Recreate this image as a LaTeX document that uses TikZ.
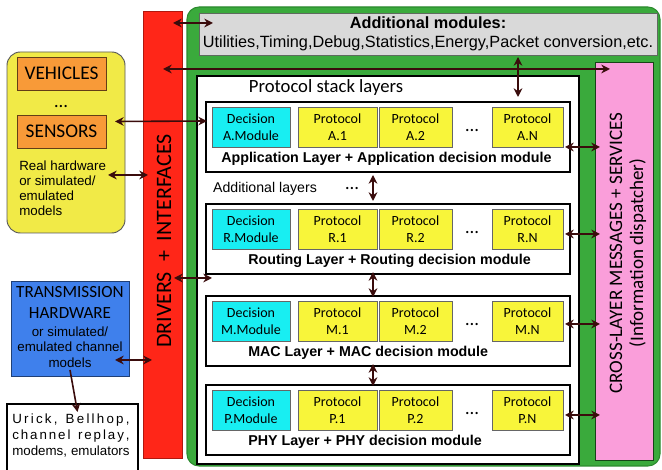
\documentclass[tikz,border=0pt]{standalone}
\usepackage{fontspec}
\setmainfont{Carlito}
\newfontfamily\arial{Liberation Sans}
\usetikzlibrary{fit,arrows.meta}
\definecolor{redbar}{HTML}{FF2618}
\definecolor{redbardk}{HTML}{B0180E}
\definecolor{grn}{HTML}{3AAA3C}
\definecolor{grndk}{HTML}{2C8A2E}
\definecolor{graybg}{HTML}{D9D9D9}
\definecolor{graydk}{HTML}{5E6A5E}
\definecolor{pinkbg}{HTML}{FA9EDA}
\definecolor{cyanbg}{HTML}{18EEF2}
\definecolor{yelbg}{HTML}{F8F53A}
\definecolor{yelbox}{HTML}{F1EA47}
\definecolor{orng}{HTML}{F89A38}
\definecolor{bluebg}{HTML}{3F80EC}
\definecolor{arrc}{HTML}{3A0C0C}
\newcommand{\mklayer}[4]{%
 \node[layerbox, fit={(206,#2) (570,#2+70)}] (L#1) {};
 \node[decbox, fit={(212,#2+5) (290,#2+45)}] (D#1) {};
 \node[boxtxt] (D#1t) at (D#1.center) {Decision\\#1.Module};
 \node[protbox, fit={(298,#2+5) (377,#2+45)}] (P#1a) {};
 \node[boxtxt] (P#1at) at (P#1a.center) {Protocol\\#1.1};
 \node[protbox, fit={(379,#2+5) (452,#2+45)}] (P#1b) {};
 \node[boxtxt] (P#1bt) at (P#1b.center) {Protocol\\#1.2};
 \node[dotsnode] (X#1) at (472,#2+29) {…};
 \node[protbox, fit={(492,#2+5) (563,#2+45)}] (P#1n) {};
 \node[boxtxt] (P#1nt) at (P#1n.center) {Protocol\\#1.N};
 \node[lbl, anchor=west] (T#1) at (#3,#2+57) {#4};
}
\newcommand{\rarrow}[2]{\draw[arr] ([shift={(2,#2)}]#1.east) -- ([shift={(5,#2)}]pink.west |- #1.east);}
\begin{document}
\begin{tikzpicture}[x=0.75pt,y=-0.75pt,
  fitbox/.style={inner sep=0pt, outer sep=0pt},
  layerbox/.style={fitbox, draw=black, line width=1.1pt, fill=white},
  decbox/.style={fitbox, draw=gray!80!black, line width=0.5pt, fill=cyanbg},
  protbox/.style={fitbox, draw=gray!80!black, line width=0.5pt, fill=yelbg},
  boxtxt/.style={inner sep=0pt, align=center, font=\fontsize{10.5}{13}\selectfont},
  dotsnode/.style={inner sep=0pt, font=\fontsize{14}{14}\selectfont},
  lbl/.style={inner sep=0pt, font=\arial\bfseries\fontsize{10.7}{12}\selectfont},
  arr/.style={draw=arrc, line width=1.2pt, {Stealth[length=6.5pt,width=6.5pt]}-{Stealth[length=6.5pt,width=6.5pt]}},
  arrone/.style={draw=arrc, line width=1.2pt, -{Stealth[length=6.5pt,width=6.5pt]}},
  orangebox/.style={fitbox, draw=black!60!orng, line width=0.7pt, fill=orng},
  orangetxt/.style={inner sep=0pt, font=\fontsize{14.5}{16}\selectfont}
]
\useasboundingbox (0,0) rectangle (662,470);
\clip (0,0) rectangle (662,470);
\fill[white] (0,0) rectangle (662,470);
% green container
\node[fitbox, fill=grn, draw=grndk, line width=0.8pt, rounded corners=9pt, fit={(187,7) (660,466)}] (green) {};
% gray additional modules
\node[fitbox, fill=graybg, draw=graydk, line width=0.6pt, fit={(199,13) (657,55)}] (gray) {};
\node[font=\arial\bfseries\fontsize{12.2}{14}\selectfont, inner sep=0pt] (addt) at (428,23) {Additional modules:};
\node[font=\arial\fontsize{12.2}{14}\selectfont, inner sep=0pt] (addl) at (428,43) {Utilities,Timing,Debug,Statistics,Energy,Packet conversion,etc.};
% pink
\node[fitbox, fill=pinkbg, draw=black!60!grn, line width=0.6pt, fit={(595,62) (653,460)}] (pink) {};
\node[rotate=90, align=center, inner sep=0pt, font=\fontsize{14.3}{15.8}\selectfont] (pinktxt) at (628,253) {CROSS-LAYER MESSAGES + SERVICES\\(Information dispatcher)};
% white stack
\node[fitbox, fill=white, draw=black, line width=1.5pt, fit={(197,76) (579,464)}] (stack) {};
\node[inner sep=0pt, font=\fontsize{14}{16}\selectfont] (stacktitle) at (326,88) {Protocol stack layers};
\mklayer{A}{102}{221}{Application Layer + Application decision module}
\mklayer{R}{204}{248}{Routing Layer + Routing decision module}
\mklayer{M}{296}{248}{MAC Layer + MAC decision module}
\mklayer{P}{385}{248}{PHY Layer + PHY decision module}
\node[inner sep=0pt, font=\arial\fontsize{10.6}{12}\selectfont] (addlay) at (265,189) {Additional layers};
\node[dotsnode] (addlaydots) at (352,189) {…};
% red bar
\node[fitbox, fill=redbar, draw=redbardk, line width=0.6pt, fit={(143,11) (182,458)}] (red) {};
\node[rotate=90, inner sep=0pt, font=\fontsize{16.5}{18}\selectfont] (redtxt) at (164,241) {DRIVERS \ + \ INTERFACES};
% yellow container
\node[fitbox, fill=yelbox, draw=gray!70!black, line width=0.7pt, rounded corners=10pt, fit={(7,52) (125,233)}] (yel) {};
\node[orangebox, fit={(17,57) (106,90)}] (veh) {};
\node[orangetxt] (vehtxt) at (veh.center) {VEHICLES};
\node[inner sep=0pt, font=\fontsize{14}{14}\selectfont] (vdots) at (61,107) {…};
\node[orangebox, fit={(17,115) (106,148)}] (sens) {};
\node[orangetxt] (senstxt) at (sens.center) {SENSORS};
\node[anchor=north west, align=left, inner sep=0pt, font=\arial\fontsize{10}{11.25}\selectfont] (real) at (19,161) {Real hardware\\or simulated/\\emulated\\models};
% transmission
\node[fitbox, fill=bluebg, draw=black!50!bluebg, line width=0.7pt, fit={(11,281) (129,376)}] (trans) {};
\node[anchor=north, align=center, inner sep=0pt, font=\fontsize{12.8}{15.5}\selectfont] (transtxt) at (70,286) {TRANSMISSION\\HARDWARE};
\node[align=center, inner sep=0pt, font=\arial\fontsize{10}{11.6}\selectfont] (transsub) at (70,347) {or simulated/\\emulated channel\\models};
% urick
\node[fitbox, fill=white, draw=black, line width=1.8pt, fit={(7,404) (138,480)}] (urick) {};
\node[anchor=north west, align=left, inner sep=0pt, font=\arial\fontsize{10}{12}\selectfont] (uricktxt) at (12,414) {%
\makebox[88pt][s]{U\hfill r\hfill i\hfill c\hfill k\hfill ,\hfill\ \hfill B\hfill e\hfill l\hfill l\hfill h\hfill o\hfill p\hfill ,}\\
\makebox[88pt][s]{c\hfill h\hfill a\hfill n\hfill n\hfill e\hfill l\hfill\ \hfill r\hfill e\hfill p\hfill l\hfill a\hfill y\hfill ,}\\
\makebox[88pt][s]{modems, emulators}};
% arrows
\draw[arr] ([shift={(-9,12)}]red.north east) -- ([shift={(14,10)}]gray.north west);
\draw[arr] ([shift={(-19,58)}]red.north east) -- ([shift={(15,7)}]pink.north west);
\draw[arr] ([shift={(90,2)}]gray.south) -- ([shift={(130,-5)}]LA.north);
\draw[arr] ([shift={(9,-10)}]sens.east) -- ([shift={(1,-16)}]LA.west);
\draw[arr] ([shift={(-17,32.5)}]yel.east) -- ([shift={(5,-59.5)}]red.west);
\draw[arr] ([shift={(-8,43.5)}]red.east) -- ([shift={(6,4)}]LR.south west);
\draw[arr] ([shift={(-14,31.5)}]trans.east) -- ([shift={(9,125.5)}]red.west);
\draw[arrone] ([shift={(0,-6)}]trans.south) -- ([shift={(5,8)}]urick.north);
\draw[arr] ([shift={(-15,3)}]LA.south) -- ([shift={(-15,-3)}]LR.north);
\draw[arr] ([shift={(-15,-2)}]LR.south) -- ([shift={(-15,1)}]LM.north);
\draw[arr] ([shift={(-15,-2)}]LM.south) -- ([shift={(-15,1)}]LP.north);
\rarrow{PAn}{20}
\rarrow{PRn}{5}
\rarrow{PMn}{3}
\rarrow{PPn}{5}
\end{tikzpicture}
\end{document}
